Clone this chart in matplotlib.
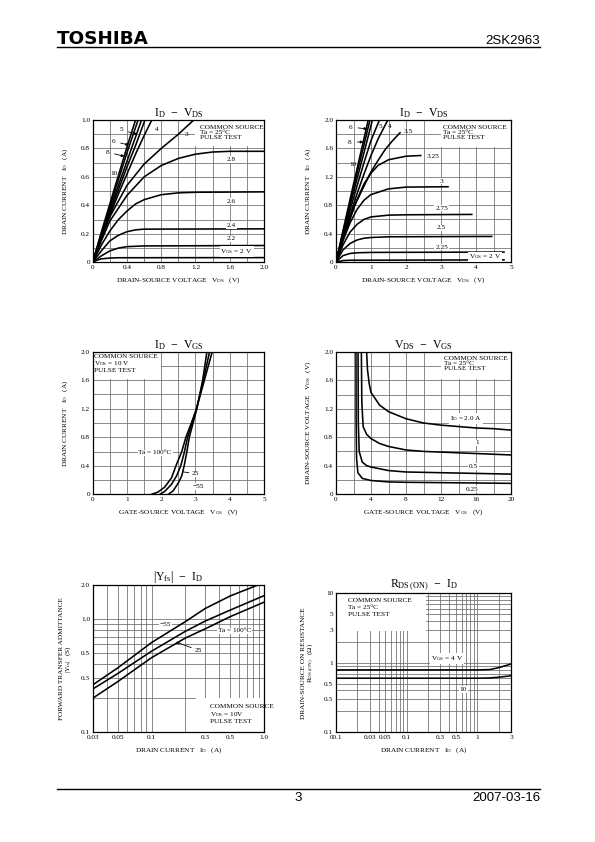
import matplotlib
matplotlib.use('Agg')
import matplotlib.pyplot as plt
from matplotlib.ticker import MultipleLocator, FixedLocator, NullFormatter, LogLocator
from matplotlib.patches import Rectangle
from matplotlib.lines import Line2D

plt.rcParams['font.family'] = ['Liberation Serif', 'DejaVu Serif']
plt.rcParams['mathtext.default'] = 'regular'

# ---- ID - VDS (0-2 V) ----
c1_labels = ['10', '8', '6', '5', '4', '3', '2.8', '2.6', '2.4', '2.2', '2']
c1_x = [
    [0, 0.1, 0.2, 0.3, 0.4, 0.5],
    [0, 0.1, 0.2, 0.3, 0.4, 0.53],
    [0, 0.1, 0.2, 0.3, 0.4, 0.5, 0.57],
    [0, 0.1, 0.2, 0.3, 0.4, 0.5, 0.61],
    [0, 0.1, 0.2, 0.3, 0.4, 0.5, 0.6, 0.69],
    [0, 0.1, 0.2, 0.4, 0.6, 0.8, 1.0, 1.18],
    [0, 0.1, 0.2, 0.4, 0.6, 0.8, 1.0, 1.2, 1.4, 1.6, 2.0],
    [0, 0.1, 0.2, 0.3, 0.4, 0.5, 0.6, 0.8, 1.0, 1.2, 2.0],
    [0, 0.1, 0.2, 0.3, 0.4, 0.5, 0.6, 2.0],
    [0, 0.1, 0.2, 0.3, 0.4, 0.6, 2.0],
    [0, 0.05, 0.1, 0.2, 0.3, 2.0],
]
c1_y = [
    [0, 0.21, 0.41, 0.61, 0.81, 1.0],
    [0, 0.2, 0.39, 0.58, 0.77, 1.0],
    [0, 0.19, 0.37, 0.54, 0.71, 0.88, 1.0],
    [0, 0.18, 0.35, 0.51, 0.67, 0.82, 1.0],
    [0, 0.17, 0.33, 0.48, 0.62, 0.76, 0.89, 1.0],
    [0, 0.17, 0.32, 0.54, 0.69, 0.8, 0.9, 1.0],
    [0, 0.15, 0.29, 0.47, 0.6, 0.68, 0.73, 0.76, 0.775, 0.78, 0.78],
    [0, 0.12, 0.22, 0.3, 0.36, 0.41, 0.44, 0.475, 0.488, 0.492, 0.495],
    [0, 0.08, 0.15, 0.19, 0.215, 0.228, 0.233, 0.235],
    [0, 0.045, 0.08, 0.1, 0.11, 0.115, 0.118],
    [0, 0.015, 0.024, 0.03, 0.032, 0.033],
]
c1_xticks = [0, 0.4, 0.8, 1.2, 1.6, 2.0]
c1_xtl = ['0', '0.4', '0.8', '1.2', '1.6', '2.0']
c1_yticks = [0, 0.2, 0.4, 0.6, 0.8, 1.0]
c1_ytl = ['0', '0.2', '0.4', '0.6', '0.8', '1.0']

# ---- ID - VDS (0-5 V) ----
c2_labels = ['10', '8', '6', '5', '4', '3.5', '3.25', '3', '2.75', '2.5', '2.25', '2']
c2_x = [
    [0, 0.2, 0.4, 0.6, 0.8, 0.92],
    [0, 0.2, 0.4, 0.6, 0.8, 0.97],
    [0, 0.2, 0.4, 0.6, 0.8, 1.04],
    [0, 0.2, 0.4, 0.6, 0.8, 1.0, 1.24],
    [0, 0.2, 0.4, 0.6, 0.8, 1.0, 1.2, 1.48],
    [0, 0.2, 0.4, 0.54, 0.8, 1.0, 1.2, 1.4, 1.6, 1.83],
    [0, 0.2, 0.4, 0.6, 0.8, 1.0, 1.2, 1.5, 2.0, 2.42],
    [0, 0.2, 0.4, 0.6, 0.8, 1.0, 1.5, 2.0, 3.2],
    [0, 0.2, 0.4, 0.6, 0.8, 1.0, 1.5, 2.0, 3.88],
    [0, 0.2, 0.4, 0.6, 0.8, 1.0, 1.5, 4.45],
    [0, 0.2, 0.4, 0.6, 1.0, 4.8],
    [0, 0.2, 0.4, 4.8],
]
c2_y = [
    [0, 0.44, 0.88, 1.31, 1.74, 2.0],
    [0, 0.42, 0.84, 1.25, 1.65, 2.0],
    [0, 0.4, 0.79, 1.17, 1.54, 2.0],
    [0, 0.37, 0.73, 1.07, 1.4, 1.71, 2.0],
    [0, 0.34, 0.66, 0.96, 1.24, 1.5, 1.73, 2.0],
    [0, 0.31, 0.6, 0.8, 1.07, 1.27, 1.43, 1.58, 1.7, 1.82],
    [0, 0.33, 0.63, 0.88, 1.1, 1.25, 1.36, 1.44, 1.49, 1.5],
    [0, 0.3, 0.55, 0.74, 0.87, 0.95, 1.03, 1.055, 1.06],
    [0, 0.24, 0.42, 0.53, 0.6, 0.635, 0.66, 0.665, 0.67],
    [0, 0.17, 0.26, 0.31, 0.335, 0.345, 0.355, 0.36],
    [0, 0.09, 0.12, 0.13, 0.135, 0.14],
    [0, 0.02, 0.025, 0.03],
]
volt5_ticks = [0, 1, 2, 3, 4, 5]
volt5_tl = ['0', '1', '2', '3', '4', '5']
amp2_ticks = [0, 0.4, 0.8, 1.2, 1.6, 2.0]
amp2_tl = ['0', '0.4', '0.8', '1.2', '1.6', '2.0']

# ---- ID - VGS ----
c3_labels = ['100', '25', '-55']
c3_x = [
    [1.72, 1.9, 2.1, 2.3, 2.43, 2.6, 2.72, 2.88, 3.03, 3.26, 3.5],
    [1.96, 2.1, 2.3, 2.45, 2.57, 2.67, 2.77, 2.9, 3.03, 3.23, 3.42],
    [2.21, 2.35, 2.5, 2.6, 2.67, 2.75, 2.82, 2.93, 3.04, 3.21, 3.34],
]
c3_y = [
    [0, 0.03, 0.1, 0.23, 0.4, 0.6, 0.8, 1.0, 1.2, 1.6, 2.02],
    [0, 0.04, 0.14, 0.26, 0.4, 0.58, 0.8, 1.0, 1.2, 1.6, 2.02],
    [0, 0.05, 0.16, 0.26, 0.4, 0.6, 0.8, 1.0, 1.2, 1.6, 2.02],
]

# ---- VDS - VGS ----
c4_labels = ['2.0', '1', '0.5', '0.25']
c4_x = [
    [3.5, 3.6, 3.8, 4, 5, 6, 8, 10, 12, 14, 16, 18, 20],
    [2.9, 2.95, 3.1, 3.5, 4, 5, 6, 8, 10, 12, 14, 16, 20],
    [2.52, 2.55, 2.65, 3.0, 3.5, 4, 6, 8, 12, 16, 20],
    [2.28, 2.3, 2.35, 2.5, 3, 4, 6, 8, 12, 20],
]
c4_y = [
    [2.0, 1.75, 1.55, 1.43, 1.25, 1.16, 1.06, 1.0, 0.97, 0.95, 0.93, 0.92, 0.9],
    [2.0, 1.3, 0.95, 0.84, 0.78, 0.71, 0.67, 0.62, 0.6, 0.59, 0.58, 0.57, 0.55],
    [2.0, 1.0, 0.6, 0.45, 0.4, 0.38, 0.33, 0.31, 0.3, 0.29, 0.28],
    [2.0, 1.0, 0.5, 0.3, 0.22, 0.19, 0.17, 0.165, 0.16, 0.15],
]
c4_xticks = [0, 4, 8, 12, 16, 20]
c4_xtl = ['0', '4', '8', '12', '16', '20']

# ---- |Yfs| - ID ----
c5_id = [0.03, 0.05, 0.1, 0.2, 0.3, 0.5, 1.0]
c5_yfs_m55 = [0.262, 0.37, 0.62, 0.95, 1.24, 1.6, 2.1]
c5_yfs_25 = [0.241, 0.33, 0.52, 0.78, 0.96, 1.2, 1.61]
c5_yfs_100 = [0.2, 0.28, 0.456, 0.68, 0.82, 1.05, 1.41]

# ---- RDS(ON) - ID ----
c6_id = [0.01, 0.1, 1.0, 1.5, 2.0, 3.0]
c6_r_vgs4 = [0.79, 0.79, 0.79, 0.8, 0.85, 0.96]
c6_r_vgs10 = [0.6, 0.6, 0.6, 0.605, 0.62, 0.65]

W, H = 595, 842
fig = plt.figure(figsize=(W / 100, H / 100), dpi=100)


def add_ax(x0, y0, x1, y1):
    return fig.add_axes([x0 / W, 1 - y1 / H, (x1 - x0) / W, (y1 - y0) / H])


def lin_setup(ax, xlim, ylim, xticks, xtl, yticks, ytl, xmin, ymin):
    ax.set_xlim(xlim)
    ax.set_ylim(ylim)
    ax.set_xticks(xticks, xtl)
    ax.set_yticks(yticks, ytl)
    ax.xaxis.set_minor_locator(MultipleLocator(xmin))
    ax.yaxis.set_minor_locator(MultipleLocator(ymin))
    style(ax)


def style(ax):
    ax.set_axisbelow(True)
    ax.grid(which='both', color='#6a6a6a', lw=0.55)
    ax.tick_params(which='both', length=0, labelsize=5.2, pad=2)
    for s in ax.spines.values():
        s.set_linewidth(0.9)


def blank(ax, x0, x1, y0, y1):
    ax.add_patch(Rectangle((x0, y0), x1 - x0, y1 - y0, facecolor='white',
                           edgecolor='none', zorder=1))


def ctext(ax, x, y, s, ha='left', va='center', size=5.2):
    ax.text(x, y, s, fontsize=size, ha=ha, va=va, zorder=4,
            bbox=dict(facecolor='white', edgecolor='none', pad=0.6))


LW = 1.15
title_kw = dict(fontsize=8.5, pad=2)
arrow = dict(arrowstyle='-|>', lw=0.6, color='black', mutation_scale=4)

# chart 1
ax1 = add_ax(92.7, 120, 264, 262.3)
lin_setup(ax1, (0, 2), (0, 1), c1_xticks, c1_xtl, c1_yticks, c1_ytl, 0.2, 0.1)
blank(ax1, 1.2, 2.0, 0.82, 1.0)
for xs, ys in zip(c1_x, c1_y):
    ax1.plot(xs, ys, color='black', lw=LW, zorder=3)
ax1.text(1.25, 0.965, 'COMMON SOURCE\nTa = 25°C\nPULSE TEST', fontsize=5.2,
         va='top', linespacing=1.05, zorder=4)
ax1.annotate('5', xy=(0.55, 0.895), xytext=(0.31, 0.93), fontsize=5.2, va='center', arrowprops=arrow)
ax1.annotate('6', xy=(0.455, 0.82), xytext=(0.22, 0.85), fontsize=5.2, va='center', arrowprops=arrow)
ax1.annotate('8', xy=(0.40, 0.74), xytext=(0.15, 0.775), fontsize=5.2, va='center', arrowprops=arrow)
ax1.text(0.25, 0.623, '10', fontsize=5.2, ha='center', va='center', zorder=4)
ax1.text(0.75, 0.93, '4', fontsize=5.2, ha='center', va='center', zorder=4)
ax1.text(1.1, 0.90, '3', fontsize=5.2, ha='center', va='center', zorder=4)
for s, y in zip(['2.8', '2.6', '2.4', '2.2'], [0.72, 0.43, 0.26, 0.164]):
    ctext(ax1, 1.62, y, s, ha='center')
ctext(ax1, 1.68, 0.075, r'$V_{GS}$ = 2 V', ha='center')
ax1.set_title(r'$I_D\ -\ V_{DS}$', **title_kw)
ax1.set_xlabel(r'DRAIN-SOURCE VOLTAGE   $V_{DS}$   (V)', fontsize=5.2, labelpad=4)
ax1.set_ylabel(r'DRAIN CURRENT   $I_D$   (A)', fontsize=5.2, labelpad=8)

# chart 2
ax2 = add_ax(336, 120, 511, 262)
lin_setup(ax2, (0, 5), (0, 2), volt5_ticks, volt5_tl, amp2_ticks, amp2_tl, 0.5, 0.2)
blank(ax2, 3.0, 5.0, 1.62, 2.0)
for xs, ys in zip(c2_x, c2_y):
    ax2.plot(xs, ys, color='black', lw=LW, zorder=3)
ax2.text(3.07, 1.93, 'COMMON SOURCE\nTa = 25°C\nPULSE TEST', fontsize=5.2,
         va='top', linespacing=1.05, zorder=4)
ax2.annotate('6', xy=(0.97, 1.87), xytext=(0.37, 1.9), fontsize=5.2, va='center', arrowprops=arrow)
ax2.annotate('8', xy=(0.86, 1.69), xytext=(0.35, 1.69), fontsize=5.2, va='center', arrowprops=arrow)
ax2.text(0.48, 1.37, '10', fontsize=5.2, ha='center', va='center', zorder=4)
ax2.text(1.26, 1.91, '5', fontsize=5.2, ha='center', va='center', zorder=4)
ax2.text(1.52, 1.91, '4', fontsize=5.2, ha='center', va='center', zorder=4)
ax2.text(2.05, 1.84, '3.5', fontsize=5.2, ha='center', va='center', zorder=4)
ax2.text(2.76, 1.49, '3.25', fontsize=5.2, ha='center', va='center', zorder=4)
for s, y in zip(['3', '2.75', '2.5', '2.25'], [1.14, 0.76, 0.48, 0.21]):
    ctext(ax2, 3.02, y, s, ha='center')
ctext(ax2, 4.26, 0.07, r'$V_{GS}$ = 2 V', ha='center')
ax2.set_title(r'$I_D\ -\ V_{DS}$', **title_kw)
ax2.set_xlabel(r'DRAIN-SOURCE VOLTAGE   $V_{DS}$   (V)', fontsize=5.2, labelpad=4)
ax2.set_ylabel(r'DRAIN CURRENT   $I_D$   (A)', fontsize=5.2, labelpad=8)

# chart 3
ax3 = add_ax(92.7, 351.7, 264, 494.3)
lin_setup(ax3, (0, 5), (0, 2), volt5_ticks, volt5_tl, amp2_ticks, amp2_tl, 0.5, 0.2)
blank(ax3, 0, 2.0, 1.62, 2.0)
for xs, ys in zip(c3_x, c3_y):
    ax3.plot(xs, ys, color='black', lw=LW, zorder=3)
ax3.text(0.05, 1.97, 'COMMON SOURCE\n$V_{DS}$ = 10 V\nPULSE TEST', fontsize=5.2,
         va='top', linespacing=1.0, zorder=4)
ctext(ax3, 1.82, 0.58, 'Ta = 100°C', ha='center')
ax3.annotate('25', xy=(2.55, 0.32), xytext=(2.9, 0.29), fontsize=5.2, va='center',
             arrowprops=dict(arrowstyle='-', lw=0.6, color='black'),
             bbox=dict(facecolor='white', edgecolor='none', pad=0.3))
ctext(ax3, 2.92, 0.11, '\u221255', ha='left')
ax3.set_title(r'$I_D\ -\ V_{GS}$', **title_kw)
ax3.set_xlabel(r'GATE-SOURCE VOLTAGE   $V_{GS}$   (V)', fontsize=5.2, labelpad=4)
ax3.set_ylabel(r'DRAIN CURRENT   $I_D$   (A)', fontsize=5.2, labelpad=8)

# chart 4
ax4 = add_ax(336, 352, 511, 494)
lin_setup(ax4, (0, 20), (0, 2), c4_xticks, c4_xtl, amp2_ticks, amp2_tl, 2, 0.2)
blank(ax4, 12, 20, 1.62, 2.0)
for xs, ys in zip(c4_x, c4_y):
    ax4.plot(xs, ys, color='black', lw=LW, zorder=3)
ax4.text(12.3, 1.95, 'COMMON SOURCE\nTa = 25°C\nPULSE TEST', fontsize=5.2,
         va='top', linespacing=1.05, zorder=4)
ctext(ax4, 14.9, 1.065, r'$I_D$ = 2.0 A', ha='center')
ctext(ax4, 16.1, 0.72, '1', ha='center')
ctext(ax4, 15.7, 0.39, '0.5', ha='center')
ctext(ax4, 15.5, 0.07, '0.25', ha='center')
ax4.set_title(r'$V_{DS}\ -\ V_{GS}$', **title_kw)
ax4.set_xlabel(r'GATE-SOURCE VOLTAGE   $V_{GS}$   (V)', fontsize=5.2, labelpad=4)
ax4.set_ylabel(r'DRAIN-SOURCE VOLTAGE   $V_{DS}$   (V)', fontsize=5.2, labelpad=8)

# chart 5
ax5 = add_ax(92.7, 585, 264, 732.3)
ax5.set_xscale('log')
ax5.set_yscale('log')
ax5.set_xlim(0.03, 1.0)
ax5.set_ylim(0.1, 2.0)
ax5.xaxis.set_major_locator(FixedLocator([0.03, 0.05, 0.1, 0.3, 0.5, 1.0]))
ax5.xaxis.set_minor_locator(LogLocator(base=10, subs=range(2, 10)))
ax5.xaxis.set_minor_formatter(NullFormatter())
ax5.set_xticklabels(['0.03', '0.05', '0.1', '0.3', '0.5', '1.0'])
ax5.yaxis.set_major_locator(FixedLocator([0.1, 0.3, 0.5, 1.0, 2.0]))
ax5.yaxis.set_minor_locator(LogLocator(base=10, subs=range(2, 10)))
ax5.yaxis.set_minor_formatter(NullFormatter())
ax5.set_yticklabels(['0.1', '0.3', '0.5', '1.0', '2.0'])
style(ax5)
blank(ax5, 0.25, 1.0, 0.1, 0.2)
for ys in [c5_yfs_m55, c5_yfs_25, c5_yfs_100]:
    ax5.plot(c5_id, ys, color='black', lw=LW, zorder=3)
ctext(ax5, 0.132, 0.887, '\u221255', ha='center')
ax5.annotate('25', xy=(0.156, 0.64), xytext=(0.24, 0.533), fontsize=5.2, va='center',
             arrowprops=arrow, bbox=dict(facecolor='white', edgecolor='none', pad=0.3))
ctext(ax5, 0.55, 0.785, 'Ta = 100°C', ha='center')
ax5.text(0.33, 0.178, 'COMMON SOURCE\n$V_{DS}$ = 10V\nPULSE TEST', fontsize=5.2,
         va='top', linespacing=1.15, zorder=4)
ax5.set_title(r'$|Y_{fs}|\ -\ I_D$', **title_kw)
ax5.set_xlabel(r'DRAIN CURRENT   $I_D$   (A)', fontsize=5.2, labelpad=4)
ax5.set_ylabel('FORWARD TRANSFER ADMITTANCE\n' + r'$|Y_{fs}|$   (S)', fontsize=5.2,
               labelpad=6, linespacing=0.9)

# chart 6
ax6 = add_ax(336, 593.3, 511, 732.3)
ax6.set_xscale('log')
ax6.set_yscale('log')
ax6.set_xlim(0.01, 3)
ax6.set_ylim(0.1, 10)
ax6.xaxis.set_major_locator(FixedLocator([0.01, 0.03, 0.05, 0.1, 0.3, 0.5, 1, 3]))
ax6.xaxis.set_minor_locator(LogLocator(base=10, subs=range(2, 10)))
ax6.xaxis.set_minor_formatter(NullFormatter())
ax6.set_xticklabels(['00.1', '0.03', '0.05', '0.1', '0.3', '0.5', '1', '3'])
ax6.yaxis.set_major_locator(FixedLocator([0.1, 0.3, 0.5, 1, 3, 5, 10]))
ax6.yaxis.set_minor_locator(LogLocator(base=10, subs=range(2, 10)))
ax6.yaxis.set_minor_formatter(NullFormatter())
ax6.set_yticklabels(['0.1', '0.3', '0.5', '1', '3', '5', '10'])
style(ax6)
blank(ax6, 0.01, 0.19, 2.9, 10)
ax6.plot(c6_id, c6_r_vgs4, color='black', lw=LW, zorder=3)
ax6.plot(c6_id, c6_r_vgs10, color='black', lw=LW, zorder=3)
ax6.text(0.015, 8.6, 'COMMON SOURCE\nTa = 25°C\nPULSE TEST', fontsize=5.2,
         va='top', linespacing=1.5, zorder=4)
ctext(ax6, 0.369, 1.16, r'$V_{GS}$ = 4 V', ha='center')
ctext(ax6, 0.635, 0.415, '10', ha='center')
ax6.set_title(r'$R_{DS\,(ON)}\ -\ I_D$', **title_kw)
ax6.set_xlabel(r'DRAIN CURRENT   $I_D$   (A)', fontsize=5.2, labelpad=4)
ax6.set_ylabel('DRAIN-SOURCE ON RESISTANCE\n' + r'$R_{DS\,(ON)}$   ($\Omega$)', fontsize=5.2,
               labelpad=6, linespacing=0.9)

# page header / footer
fig.text(57 / W, 1 - 44 / H, 'TOSHIBA', fontsize=13.2, fontweight='heavy',
         family=['DejaVu Sans'], va='baseline', ha='left')
fig.text(540 / W, 1 - 43.5 / H, '2SK2963', fontsize=9.5,
         family=['Liberation Sans', 'DejaVu Sans'], va='baseline', ha='right')
fig.add_artist(Line2D([57 / W, 540 / W], [1 - 47 / H] * 2, color='black', lw=1.0))
fig.add_artist(Line2D([57 / W, 540 / W], [1 - 788.5 / H] * 2, color='black', lw=1.0))
fig.text(298 / W, 1 - 801 / H, '3', fontsize=9.5,
         family=['Liberation Sans', 'DejaVu Sans'], va='baseline', ha='center')
fig.text(540 / W, 1 - 801 / H, '2007-03-16', fontsize=9.5,
         family=['Liberation Sans', 'DejaVu Sans'], va='baseline', ha='right')

fig.savefig('out.png', dpi=100)
